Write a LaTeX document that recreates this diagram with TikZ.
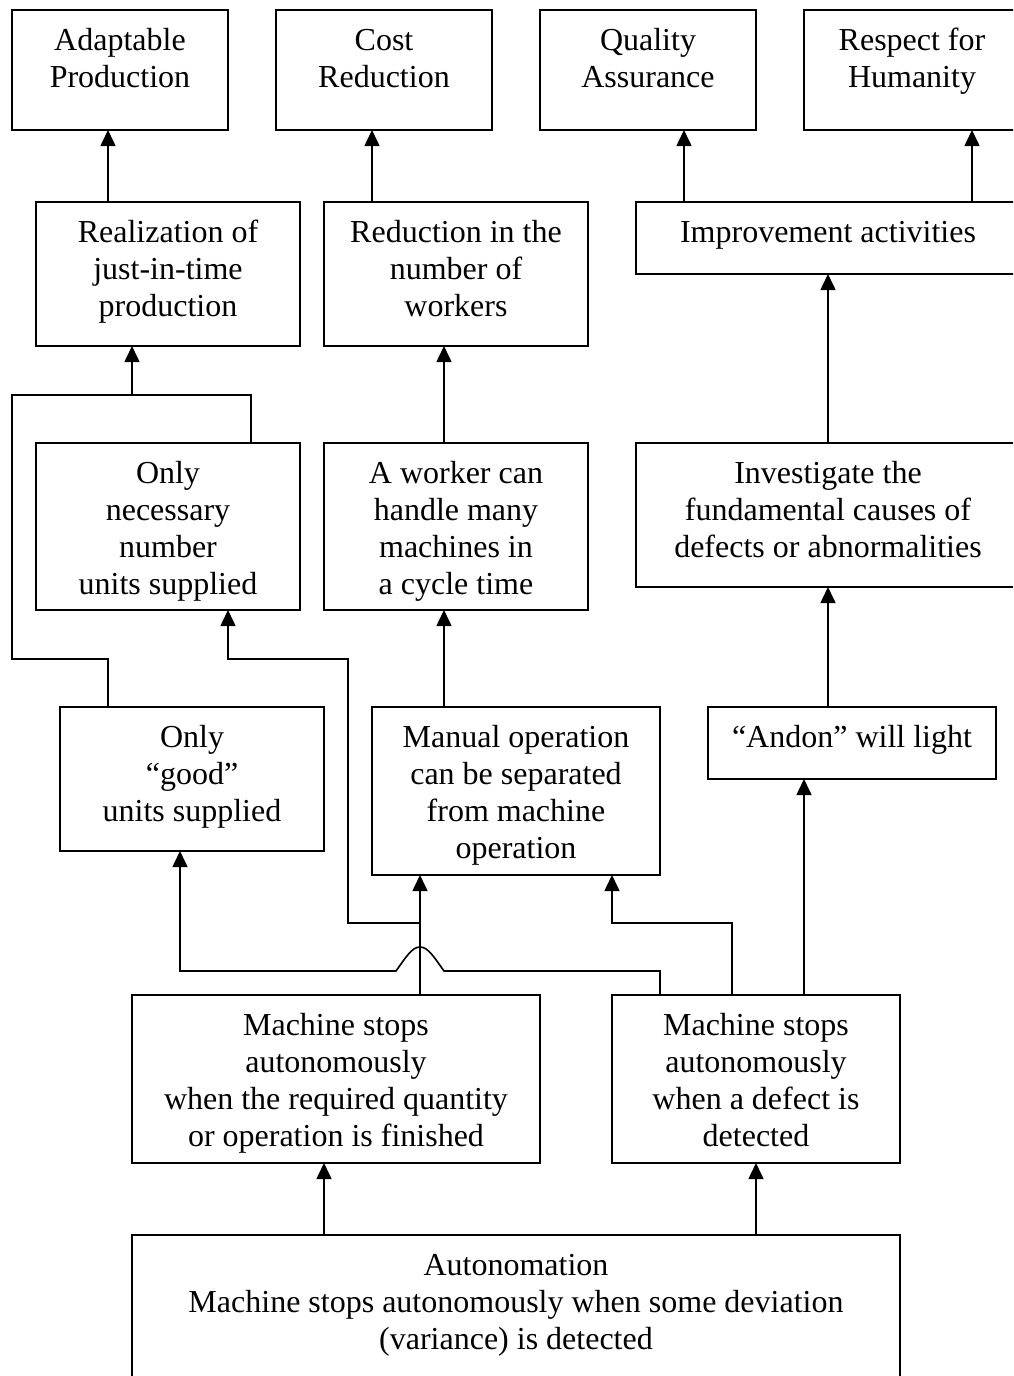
\documentclass[tikz,border=0pt]{standalone}
\usepackage{fontspec}
\setmainfont{Liberation Serif}
\usetikzlibrary{arrows.meta,calc}
% box content: width, height, centred lines hanging from the top edge
\newcommand{\boxtext}[3]{\parbox[c][#2pt][t]{#1pt}{\centering\rule{0pt}{40pt}#3}}
\begin{document}
\begin{tikzpicture}[x=1pt,y=-1pt,
  box/.style={draw,line width=1.9pt,inner sep=0pt,outer sep=0pt,anchor=north west,
              font=\fontsize{32}{37}\selectfont},
  conn/.style={line width=1.6pt},
  arr/.style={conn,-{Triangle[length=16pt,width=15pt]}}]
\path[use as bounding box,clip] (0,0) rectangle (1013,1376);

% goals
\node[box] (ap) at (12,10)  {\boxtext{216}{120}{Adaptable\\Production}};
\node[box] (cr) at (276,10) {\boxtext{216}{120}{Cost\\Reduction}};
\node[box] (qa) at (540,10) {\boxtext{216}{120}{Quality\\Assurance}};
\node[box] (rh) at (804,10) {\boxtext{216}{120}{Respect for\\Humanity}};

% second level
\node[box] (jit) at (36,202)  {\boxtext{264}{144}{Realization of\\just-in-time\\production}};
\node[box] (rw)  at (324,202) {\boxtext{264}{144}{Reduction in the\\number of\\workers}};
\node[box] (ia)  at (636,202) {\boxtext{384}{72}{Improvement activities}};

% third level
\node[box] (nn)  at (36,443)  {\boxtext{264}{167}{Only\\necessary\\number\\units supplied}};
\node[box] (wm)  at (324,443) {\boxtext{264}{167}{A worker can\\handle many\\machines in\\a cycle time}};
\node[box] (inv) at (636,443) {\boxtext{384}{144}{Investigate the\\fundamental causes of\\defects or abnormalities}};

% fourth level
\node[box] (gu) at (60,707)  {\boxtext{264}{144}{Only\\“good”\\units supplied}};
\node[box] (mo) at (372,707) {\boxtext{288}{168}{Manual operation\\can be separated\\from machine\\operation}};
\node[box] (an) at (708,707) {\boxtext{288}{72}{“Andon” will light}};

% machine stops
\node[box] (msq) at (132,995) {\boxtext{408}{168}{Machine stops\\autonomously\\when the required quantity\\or operation is finished}};
\node[box] (msd) at (612,995) {\boxtext{288}{168}{Machine stops\\autonomously\\when a defect is\\detected}};

% root
\node[box] (auto) at (132,1235) {\boxtext{768}{168}{Autonomation\\Machine stops autonomously when some deviation\\(variance) is detected}};

% connectors to the goals
\draw[arr] ($(jit.north west)+(72,0)$)  -- ($(ap.south west)+(96,0)$);
\draw[arr] ($(rw.north west)+(48,0)$)   -- ($(cr.south west)+(96,0)$);
\draw[arr] ($(ia.north west)+(48,0)$)   -- ($(qa.south west)+(144,0)$);
\draw[arr] ($(ia.north west)+(336,0)$)  -- ($(rh.south west)+(168,0)$);

% just-in-time: two sources merge
\coordinate (jmerge) at (132,395);
\draw[conn] ($(gu.north west)+(48,0)$) |- (12,659) |- (251,395) -- ($(nn.north west)+(215,0)$);
\draw[arr] (jmerge) -- ($(jit.south west)+(96,0)$);

\draw[arr] ($(wm.north west)+(120,0)$)  -- ($(rw.south west)+(120,0)$);
\draw[arr] ($(inv.north west)+(192,0)$) -- ($(ia.south west)+(192,0)$);
\draw[arr] ($(mo.north west)+(72,0)$)   -- ($(wm.south west)+(120,0)$);
\draw[arr] ($(an.north west)+(120,0)$)  -- ($(inv.south west)+(192,0)$);

% from the quantity stop
\coordinate (qsplit) at (420,923);
\draw[arr] ($(msq.north west)+(288,0)$) -- ($(mo.south west)+(48,0)$);
\draw[arr] (qsplit) -| (348,659) -| ($(nn.south west)+(192,0)$);

% from the defect stop (with a hop over the vertical line)
\draw[arr] ($(msd.north west)+(48,0)$) |- (444,971)
  .. controls (434,957) and (428,947) .. (420,947)
  .. controls (412,947) and (406,957) .. (396,971)
  -| ($(gu.south west)+(120,0)$);
\draw[arr] ($(msd.north west)+(120,0)$) |- (612,923) -- ($(mo.south west)+(240,0)$);
\draw[arr] ($(msd.north west)+(192,0)$) -- ($(an.south west)+(96,0)$);

% from the root
\draw[arr] ($(auto.north west)+(192,0)$) -- ($(msq.south west)+(192,0)$);
\draw[arr] ($(auto.north west)+(624,0)$) -- ($(msd.south west)+(144,0)$);
\end{tikzpicture}
\end{document}
